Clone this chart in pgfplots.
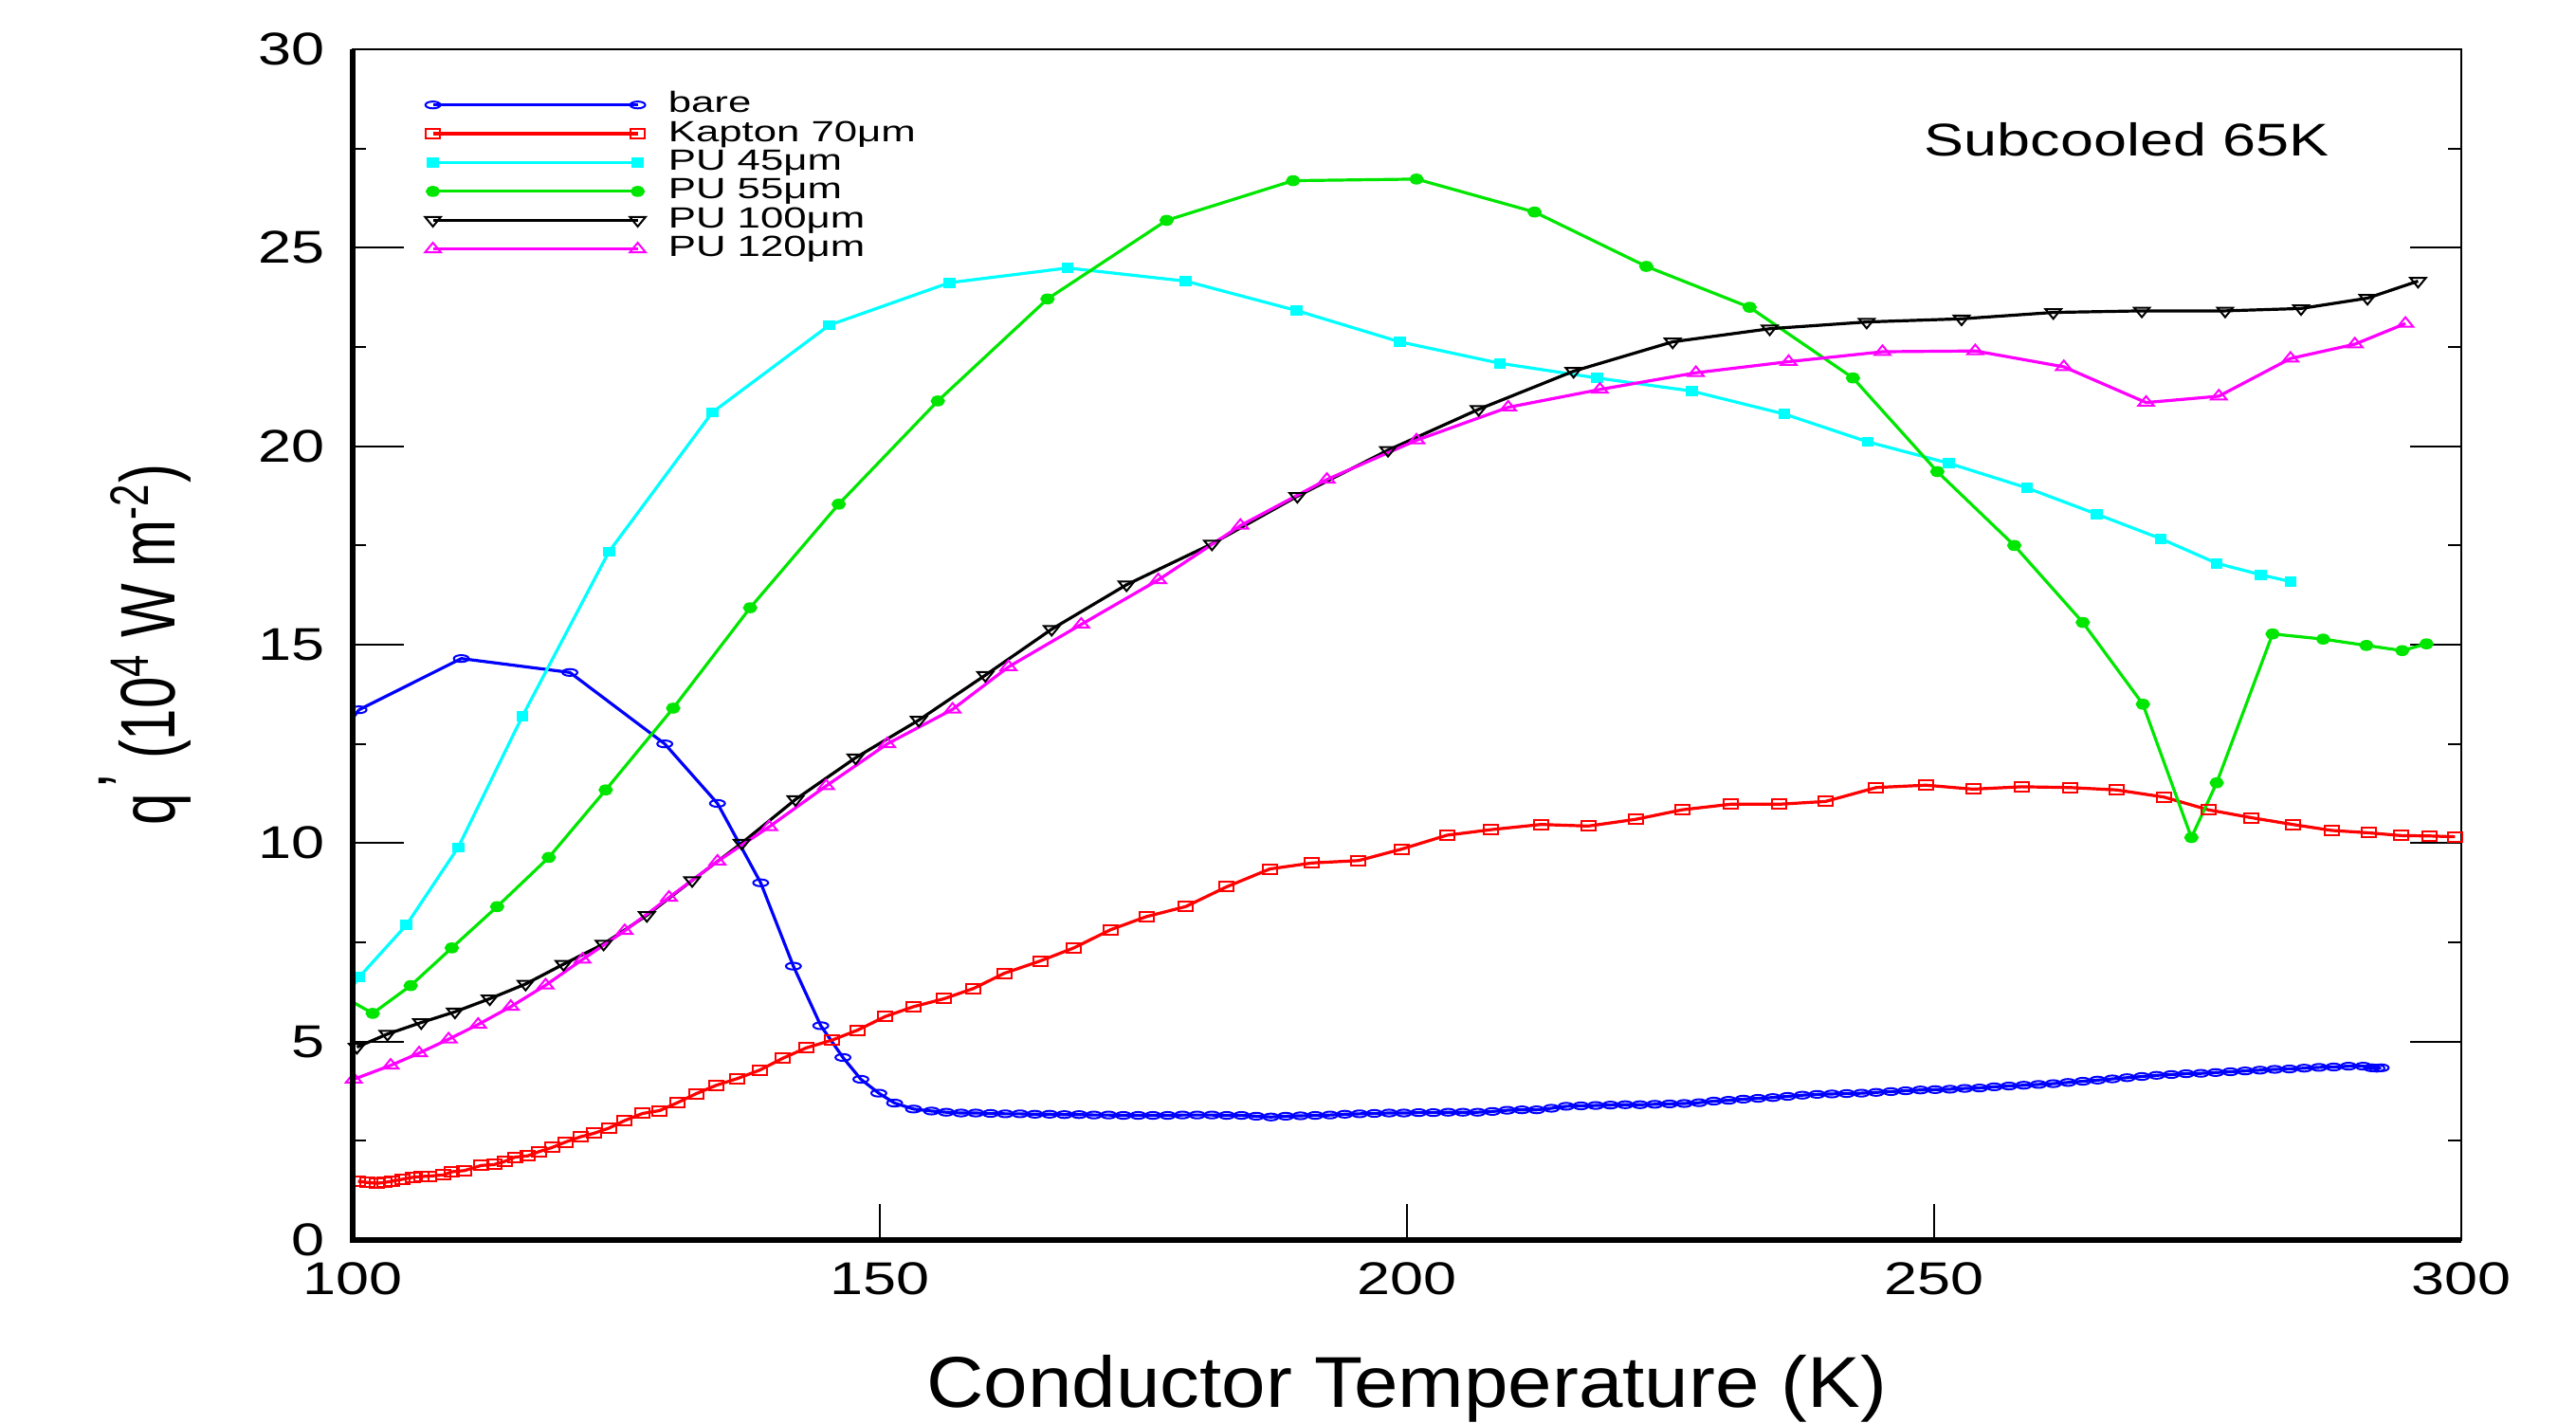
\documentclass[border=0pt]{standalone}
\usepackage{fontspec}
\setmainfont{Liberation Sans}
\newfontfamily\tickf{Liberation Sans}[FakeStretch=1.3]
\newfontfamily\legf{Liberation Sans}[FakeStretch=1.42]
\newfontfamily\labf{Liberation Sans}[FakeStretch=1.1]
\usepackage{pgfplots}
\pgfplotsset{compat=1.18}
\definecolor{cgreen}{RGB}{0,230,0}
\definecolor{ccyan}{RGB}{0,255,255}
\definecolor{cmag}{RGB}{255,0,255}
\definecolor{cblue}{RGB}{0,0,255}
\definecolor{cred}{RGB}{255,0,0}

\begin{document}
\begin{tikzpicture}
\useasboundingbox (-93pt,-48pt) rectangle (586.25pt,327pt);
\begin{axis}[scale only axis, width=556pt, height=314pt,
  xmin=100, xmax=300, ymin=0, ymax=30,
  xtick={100,150,200,250,300}, ytick={0,5,...,30},
  minor y tick num=1,
  tick align=inside, xtick pos=bottom, ytick pos=both, yticklabel pos=left,
  major tick length=13.4pt, minor tick length=3.5pt,
  xtick style={/pgfplots/major tick length=9.5pt},
  tick style={black, line width=0.5pt},
  axis line style={line width=0.6pt},
  tick label style={font=\tickf\fontsize{12.1}{14}\selectfont},
  /pgf/number format/assume math mode=true,
  yticklabel style={xshift=-3.75pt},
  xticklabel style={yshift=-2.5pt},
  xlabel={Conductor Temperature (K)},
  xlabel style={at={(axis description cs:0.5,0)}, anchor=base, yshift=-44pt,
    font=\labf\fontsize{19}{22}\selectfont},
  ylabel={\scalebox{1}[1.36]{q\hspace{1.5pt}\raisebox{0.3em}{'} (10\textsuperscript{4} W m\textsuperscript{-2})}},
  ylabel style={at={(axis description cs:-0.0841,0.5)}, anchor=base,
    font=\fontsize{15}{18}\selectfont},
  legend style={at={(axis description cs:0.034,0.966)}, anchor=north west,
    draw=none, fill=none, inner sep=0pt, row sep=0pt,
    font=\legf\fontsize{7.7}{8}\selectfont,
    nodes={inner sep=0pt, text height=5.8pt, text depth=1.8pt, anchor=west},
    /tikz/every odd column/.style={column sep=6pt}},
  legend cell align=left,
  legend image code/.code={\draw[#1] plot coordinates {(0pt,0pt) (54pt,0pt)};},
]
% bare
\addplot[cblue, line width=0.8pt, mark=o, mark size=0.9pt,
  mark options={xscale=2.2, line width=0.5pt}] coordinates {
 (100.6,13.36) (110.3,14.65) (120.6,14.3) (129.6,12.5) (134.6,11.0) (138.7,9.0)
 (141.8,6.9) (144.4,5.4) (146.5,4.6) (148.2,4.05) (149.9,3.7) (151.4,3.45)
 (153.2,3.3) (154.9,3.25) (156.3,3.22) (157.7,3.2) (159.1,3.2) (160.5,3.19)
 (161.9,3.18) (163.3,3.18) (164.7,3.17) (166.1,3.17) (167.5,3.16) (168.9,3.16)
 (170.3,3.15) (171.7,3.15) (173.1,3.14) (174.5,3.14) (175.9,3.14) (177.3,3.14)
 (178.7,3.15) (180.1,3.15) (181.5,3.15) (182.9,3.14) (184.3,3.14) (185.7,3.12)
 (187.1,3.1) (188.5,3.12) (189.9,3.13) (191.3,3.14) (192.7,3.15) (194.1,3.17)
 (195.5,3.18) (196.9,3.19) (198.3,3.2) (199.7,3.2) (201.1,3.21) (202.5,3.21)
 (203.9,3.22) (205.3,3.22) (206.7,3.22) (208.1,3.24) (209.5,3.27) (210.9,3.28)
 (212.3,3.28) (213.7,3.32) (215.1,3.37) (216.5,3.38) (217.9,3.39) (219.3,3.4)
 (220.7,3.41) (222.1,3.41) (223.5,3.42) (224.9,3.43) (226.3,3.44) (227.7,3.46)
 (229.1,3.5) (230.5,3.52) (231.9,3.55) (233.3,3.57) (234.7,3.59) (236.1,3.62)
 (237.5,3.65) (238.9,3.67) (240.3,3.68) (241.7,3.69) (243.1,3.7) (244.5,3.72)
 (245.9,3.74) (247.3,3.76) (248.7,3.78) (250.1,3.79) (251.5,3.8) (252.9,3.82)
 (254.3,3.83) (255.7,3.86) (257.1,3.88) (258.5,3.9) (259.9,3.92) (261.3,3.94)
 (262.7,3.97) (264.1,4.0) (265.5,4.03) (266.9,4.06) (268.3,4.09) (269.7,4.12)
 (271.1,4.15) (272.5,4.17) (273.9,4.19) (275.3,4.2) (276.7,4.22) (278.1,4.24)
 (279.5,4.26) (280.9,4.28) (282.3,4.3) (283.7,4.31) (285.1,4.33) (286.5,4.35)
 (287.9,4.36) (289.3,4.38) (290.7,4.38) (291.5,4.34) (292.0,4.33) (292.4,4.34)};
\addlegendentry{bare}
% Kapton
\addplot[cred, line width=0.8pt, mark=square, mark size=1.25pt,
  mark options={xscale=1.5, line width=0.5pt}] coordinates {
 (100.5,1.48) (101.4,1.45) (102.3,1.43) (103.0,1.45) (103.7,1.48) (104.7,1.53)
 (105.7,1.58) (106.5,1.6) (107.2,1.61) (108.6,1.64) (109.4,1.72) (110.6,1.75)
 (112.2,1.88) (113.4,1.9) (114.4,1.98) (115.4,2.09) (116.6,2.12) (117.7,2.23)
 (118.9,2.33) (120.2,2.47) (121.6,2.6) (122.9,2.69) (124.3,2.82) (125.8,3.01)
 (127.5,3.19) (129.1,3.26) (130.8,3.46) (132.6,3.69) (134.5,3.9) (136.5,4.07)
 (138.6,4.28) (140.8,4.58) (143.0,4.84) (145.5,5.04) (147.9,5.29) (150.5,5.63)
 (153.2,5.88) (156.1,6.08) (158.9,6.34) (161.8,6.72) (165.2,7.03) (168.4,7.36)
 (171.9,7.82) (175.3,8.15) (179.0,8.4) (182.9,8.9) (187.0,9.35) (191.0,9.5)
 (195.4,9.56) (199.5,9.85) (203.8,10.2) (208.0,10.34) (212.7,10.47) (217.2,10.43)
 (221.7,10.6) (226.1,10.84) (230.7,10.98) (235.3,10.98) (239.7,11.05) (244.5,11.4)
 (249.2,11.46) (253.7,11.36) (258.3,11.42) (262.9,11.4) (267.3,11.34) (271.8,11.16)
 (276.0,10.84) (280.1,10.64) (284.0,10.47) (287.7,10.32) (291.2,10.26) (294.3,10.19)
 (297.0,10.18) (299.4,10.16)};
\addlegendentry{Kapton 70μm}
% PU 45
\addplot[ccyan, line width=0.8pt, mark=square*, mark size=0.95pt,
  mark options={xscale=1.25}] coordinates {
 (100.6,6.62) (105.1,7.94) (110.0,9.89) (116.1,13.2) (124.3,17.34) (134.1,20.85)
 (145.2,23.05) (156.6,24.12) (167.8,24.49) (179.0,24.16) (189.5,23.42) (199.3,22.63)
 (208.8,22.09) (218.0,21.72) (227.0,21.39) (235.8,20.81) (243.7,20.11) (251.4,19.57)
 (258.8,18.95) (265.4,18.29) (271.5,17.67) (276.8,17.05) (281.0,16.76) (283.8,16.59)};
\addlegendentry{PU 45μm}
% PU 55
\addplot[cgreen, line width=0.8pt, mark=*, mark size=1.05pt,
  mark options={xscale=1.4}] coordinates {
 (101.9,5.71) (105.5,6.41) (109.4,7.36) (113.7,8.4) (118.6,9.64) (124.0,11.34)
 (130.4,13.4) (137.7,15.93) (146.1,18.54) (155.5,21.14) (165.9,23.71) (177.2,25.69)
 (189.2,26.69) (200.9,26.73) (212.1,25.9) (222.7,24.53) (232.5,23.5) (242.3,21.72)
 (250.3,19.36) (257.6,17.5) (264.1,15.56) (269.8,13.5) (274.4,10.14) (276.8,11.52)
 (282.1,15.27) (286.9,15.14) (291.0,14.98) (294.4,14.85) (296.7,15.02)};
\addlegendentry{PU 55μm}
% PU 100
\addplot[black, line width=0.8pt, mark=triangle, mark size=1.67pt,
  mark options={rotate=180, xscale=1.42, line width=0.5pt}] coordinates {
 (100.4,4.86) (103.3,5.19) (106.5,5.48) (109.7,5.75) (113.0,6.08) (116.4,6.45)
 (120.0,6.95) (123.8,7.46) (127.9,8.18) (132.2,9.06) (136.9,10.0) (142.0,11.1)
 (147.7,12.15) (153.7,13.1) (160.0,14.23) (166.3,15.39) (173.4,16.51) (181.5,17.54)
 (189.6,18.74) (198.2,19.9) (206.8,20.93) (215.8,21.89) (225.2,22.63) (234.4,22.96)
 (243.6,23.13) (252.6,23.21) (261.3,23.37) (269.7,23.41) (277.6,23.41) (284.8,23.47)
 (291.1,23.73) (295.9,24.16)};
\addlegendentry{PU 100μm}
% PU 120
\addplot[cmag, line width=0.8pt, mark=triangle, mark size=1.67pt,
  mark options={xscale=1.42, line width=0.5pt}] coordinates {
 (100.1,4.05) (103.6,4.40) (106.3,4.71) (109.1,5.06) (111.9,5.43) (115.0,5.88)
 (118.3,6.42) (121.8,7.07) (125.8,7.79) (130.0,8.63) (134.6,9.54) (139.5,10.41)
 (144.9,11.44) (150.7,12.5) (156.9,13.37) (162.2,14.44) (169.1,15.51) (176.4,16.63)
 (184.2,18.0) (192.4,19.16) (200.9,20.15) (209.6,20.98) (218.3,21.43) (227.4,21.85)
 (236.2,22.13) (245.1,22.38) (253.9,22.4) (262.3,22.0) (270.1,21.1) (277.0,21.26)
 (283.8,22.21) (289.9,22.57) (294.7,23.09)};
\addlegendentry{PU 120μm}
% line pieces running in from the left edge
\addplot[cblue, line width=0.8pt, forget plot] coordinates {(96,11.75) (100.6,13.36)};
\addplot[ccyan, line width=0.8pt, forget plot] coordinates {(96,4.9) (100.6,6.62)};
\addplot[cgreen, line width=0.8pt, forget plot] coordinates {(96,6.6) (101.9,5.71)};
\node[anchor=base west, font=\tickf\fontsize{12.1}{14}\selectfont]
  at (axis cs:247.8,27.32) {Subcooled 65K};
\end{axis}
\draw[line width=1.3pt] (current axis.north west) -- (current axis.south west)
  -- (current axis.south east);
\end{tikzpicture}
\end{document}
